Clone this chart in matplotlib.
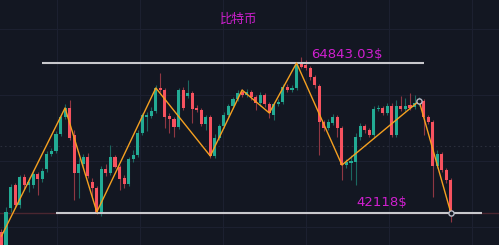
import numpy as np
import matplotlib.pyplot as plt

plt.rcParams['font.family'] = ['Noto Sans CJK SC', 'DejaVu Sans']

# OHLC prices, one candle per entry
opens = [39240, 37270, 42880, 46360, 43330, 47570, 46360, 46360, 48030, 47270,
         48780, 51060, 51510, 54090, 56660, 58030, 53940, 48180, 49540, 50600,
         46820, 45910, 42120, 48780, 48180, 50600, 49090, 47420, 46510, 50300,
         50910, 54240, 56660, 56810, 57570, 61060, 60750, 56810, 56360, 55150,
         60750, 59840, 60300, 58030, 57720, 55600, 56660, 50750, 53480, 55300,
         56970, 58330, 59390, 60450, 60000, 60450, 59690, 58780, 60000, 58630,
         56970, 58630, 58940, 61210, 60750, 61060, 64690, 64540, 64090, 62720,
         61360, 55900, 55000, 55750, 56660, 55000, 49390, 49690, 49850, 53630,
         55300, 54690, 53940, 57870, 58030, 57270, 58330, 53940, 58330, 57870,
         58480, 58180, 58630, 59090, 56660, 55900, 49240, 51060, 48630, 47120]
closes = [37119, 42270, 46060, 43330, 47570, 46360, 46820, 48030, 47270, 48480,
          51060, 51510, 54090, 56660, 58030, 53480, 48180, 49540, 50600, 47720,
          45910, 42120, 48780, 48180, 50600, 49090, 47270, 46510, 50300, 50910,
          54240, 56970, 56970, 57570, 61060, 60750, 56660, 56360, 55150, 60750,
          58030, 60300, 57870, 57720, 55600, 56660, 50750, 53480, 55300, 56970,
          58330, 59390, 60300, 60000, 60450, 59690, 58780, 60000, 58630, 57270,
          58630, 58940, 61210, 60750, 61060, 64540, 64240, 64090, 62720, 61510,
          55900, 55000, 55900, 56660, 55000, 49390, 49850, 50000, 53630, 55300,
          54690, 53940, 57870, 58030, 57270, 58330, 53940, 58330, 57870, 58330,
          58030, 58780, 59090, 56660, 55900, 49240, 51060, 48630, 47120, 42118]
highs = [39694, 43030, 46510, 46660, 47880, 48030, 47570, 48630, 48330, 48940,
         51510, 51970, 54540, 56970, 58630, 59240, 54690, 50450, 51060, 51210,
         47420, 46210, 49240, 49540, 52420, 50910, 49390, 47880, 50600, 51660,
         54690, 57270, 57420, 58180, 61510, 63330, 61060, 57270, 56660, 61060,
         61210, 62270, 60600, 58480, 58030, 56970, 56970, 54090, 55600, 57420,
         58630, 59690, 60750, 60900, 60900, 60750, 60000, 60450, 60300, 58940,
         58940, 59390, 61660, 61660, 61510, 64843, 65750, 65300, 64390, 63030,
         61660, 56210, 56360, 57120, 56970, 55300, 50300, 50910, 54240, 55750,
         55600, 55000, 58330, 58480, 58330, 58780, 58780, 59240, 59840, 59540,
         60300, 60000, 59690, 59390, 56970, 56210, 51660, 51360, 48940, 47420]
lows = [36513, 36820, 42270, 42880, 42880, 45600, 45300, 45910, 44850, 46820,
        48330, 50750, 51210, 53780, 56360, 53180, 44090, 44390, 48940, 47420,
        44540, 41970, 41660, 47720, 47880, 48940, 45600, 45910, 46210, 49850,
        50600, 53940, 54540, 56510, 57270, 60450, 55000, 54240, 53630, 54840,
        57720, 59540, 55750, 57420, 55300, 54690, 50450, 50450, 53180, 55000,
        56660, 58030, 59090, 59690, 59690, 59240, 57720, 58330, 58180, 56510,
        56210, 58330, 58630, 60450, 60450, 60750, 64090, 63780, 62270, 61060,
        50910, 54540, 54690, 55450, 53630, 47120, 48940, 47120, 46360, 53180,
        54240, 53630, 53630, 57570, 56970, 56970, 53630, 53630, 57570, 57570,
        57720, 57870, 58330, 53940, 55600, 44540, 48940, 48330, 46660, 40760]

# zigzag pivots (candle index, price)
zz_idx = [0, 14, 21, 34, 46, 53, 59, 65, 75, 92, 99]
zz_price = [38630, 58030, 42270, 61060, 50750, 60750, 57270, 64843, 49390, 59090, 42118]

top_price = 64843.03
bottom_price = 42118
top_span = (8.9, 93.1)
bottom_span = (12.0, 105.8)

bg = '#131722'
up = '#22ab94'
down = '#f7525f'

fig = plt.figure(figsize=(4.99, 2.45), dpi=100)
fig.patch.set_facecolor(bg)
ax = fig.add_axes([0, 0, 1, 1])
ax.set_facecolor(bg)

x = np.arange(len(opens))
o = np.array(opens)
c = np.array(closes)
h = np.array(highs)
l = np.array(lows)
cols = np.where(c >= o, up, down)

# faint grid
for gx in [12.2, 30.5, 48.8, 67.1, 85.4, 103.7]:
    ax.axvline(gx, color='#1c2030', lw=0.8, zorder=0)
for gy in [70000, 60000, 50000, 40000]:
    ax.axhline(gy, color='#1c2030', lw=0.8, zorder=0)
ax.axhline(52250, color='#2a2e3b', lw=0.8, ls=(0, (1.5, 2.5)), zorder=0)

# price line at last close
ax.axhline(bottom_price, color='#4a2630', lw=1.0, zorder=1)

ax.vlines(x, l, h, colors=cols, lw=0.8, alpha=0.55, zorder=2)
body = np.maximum(np.abs(c - o), 150)
ax.bar(x, body, bottom=np.minimum(o, c), width=0.68, color=cols, zorder=3)

ax.hlines(top_price, *top_span, colors='#c8c8cc', lw=1.5, zorder=4)
ax.hlines(bottom_price, *bottom_span, colors='#c8c8cc', lw=1.5, zorder=4)

ax.plot(zz_idx, zz_price, color='#f5a020', lw=1.0, zorder=5)
ax.scatter([zz_idx[-2], zz_idx[-1]], [zz_price[-2], zz_price[-1]], s=14,
           facecolor=bg, edgecolor='#b8bcc8', lw=1.0, zorder=6)

ax.text(68.2, 66200, '64843.03$', color='#d01fd0', fontsize=9.5,
        ha='left', va='center', family=['DejaVu Sans'])
ax.text(78.1, 43700, '42118$', color='#d01fd0', fontsize=9.5,
        ha='left', va='center', family=['DejaVu Sans'])
fig.text(238.5 / 499, 1 - 19 / 245, '比特币', color='#d01fd0', fontsize=9,
         ha='center', va='center')

ax.set_xlim(-0.33, 109.6)
ax.set_ylim(37270, 74388)
ax.axis('off')

fig.savefig('out.png', dpi=100, facecolor=bg)
